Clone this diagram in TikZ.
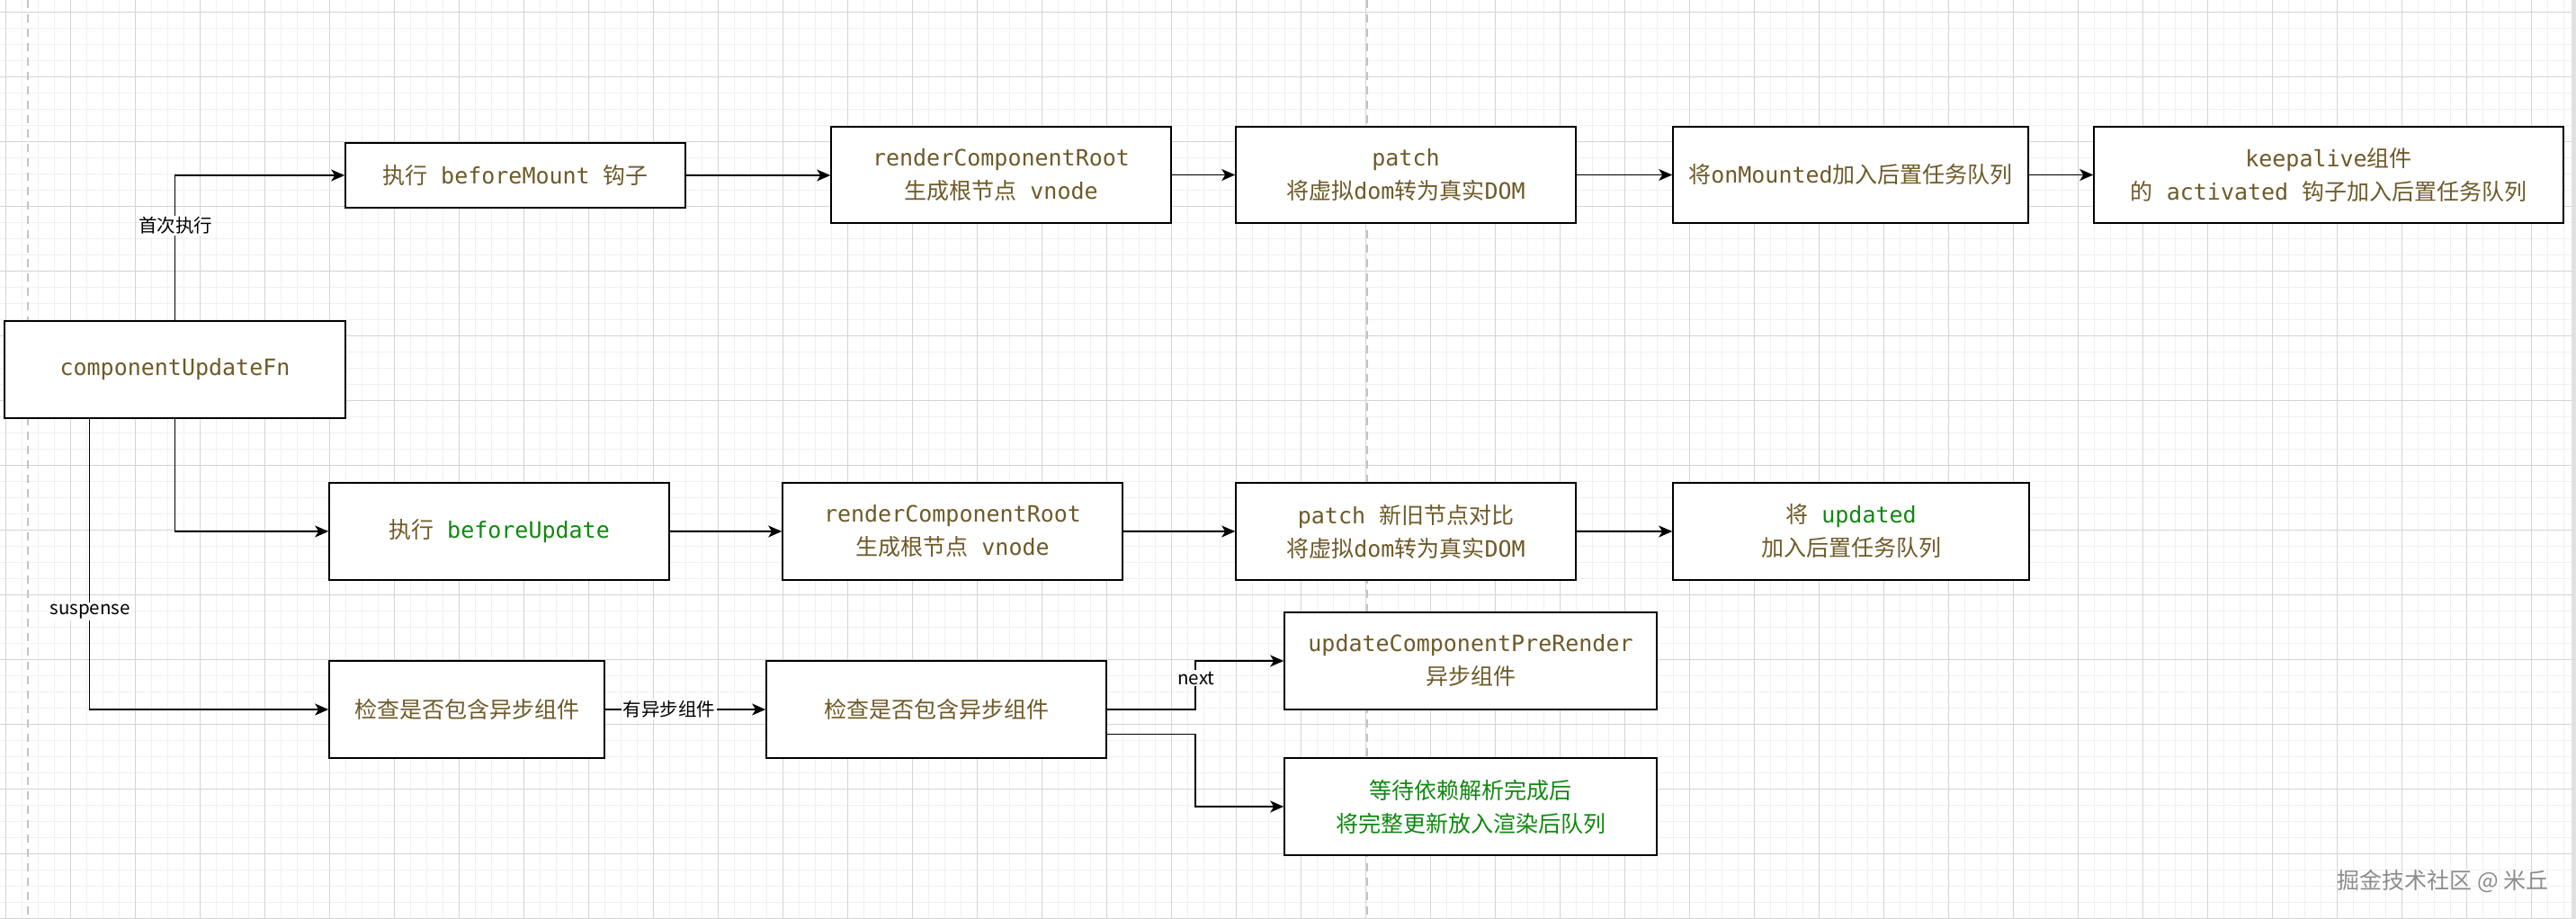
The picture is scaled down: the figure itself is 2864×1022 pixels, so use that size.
\documentclass[tikz,border=0pt]{standalone}
\usepackage{fontspec}
\usetikzlibrary{arrows.meta,calc}
\newfontfamily\monof{DejaVu Sans Mono}
\newfontfamily\cjk{Noto Sans CJK SC}
\newcommand\zh[1]{{\cjk #1}}
\definecolor{txtbrown}{RGB}{110,90,40}
\definecolor{txtgreen}{RGB}{16,136,16}
\definecolor{gridmajor}{RGB}{212,212,212}
\definecolor{gridminor}{RGB}{240,240,240}
\definecolor{guide}{RGB}{196,196,196}
\definecolor{wmgray}{RGB}{140,140,140}
\newcommand\gr[1]{\textcolor{txtgreen}{#1}}
\begin{document}
\begin{tikzpicture}[x=1pt,y=-1pt,
  box/.style={draw=black, fill=white, line width=1.6pt, align=center, inner sep=0pt,
    text=txtbrown, font=\monof\fontsize{25}{37}\selectfont},
  arr/.style={line width=1.4pt, -{Stealth[length=15pt,width=13pt,inset=4pt]}},
  lbl/.style={fill=white, inner sep=1.5pt, font=\cjk\fontsize{20.5}{24}\selectfont, text=black},
  minorline/.style={gridminor, line width=1pt},
  majorline/.style={gridmajor, line width=1.3pt},
  guideline/.style={guide, line width=1.5pt, dash pattern=on 9pt off 7pt},
]
% background and bounding box
\fill[white] (0,0) rectangle (2864,1022);
\useasboundingbox (0,0) rectangle (2864,1022);
% grid
\foreach \i in {0,...,159} \draw[minorline] ({6.3+18*\i},0) -- ({6.3+18*\i},1022);
\foreach \j in {0,...,56} \draw[minorline] (0,{13.3+18*\j}) -- (2864,{13.3+18*\j});
\foreach \i in {0,...,39} \draw[majorline] ({6.3+72*\i},0) -- ({6.3+72*\i},1022);
\foreach \j in {0,...,14} \draw[majorline] (0,{13.3+72*\j}) -- (2864,{13.3+72*\j});
\fill[gridmajor!70] (2859,0) rectangle (2864,1022);
% dashed guides
\draw[guideline] (31,0) -- (31,1022);
\draw[guideline] (1520,0) -- (1520,1022);

% boxes
\node[box, minimum width=379, minimum height=108] (cuf) at (194.5,411) {componentUpdateFn};
\node[box, minimum width=378, minimum height=72] (bm) at (573,195) {\zh{执行} beforeMount \zh{钩子}};
\node[box, minimum width=378, minimum height=107] (rcr1) at (1113,194.5) {renderComponentRoot\\\zh{生成根节点} vnode};
\node[box, minimum width=378, minimum height=107] (p1) at (1563,194.5) {patch\\\zh{将虚拟}dom\zh{转为真实}DOM};
\node[box, minimum width=395, minimum height=107] (onm) at (2057.5,194.5) {\zh{将}onMounted\zh{加入后置任务队列}};
\node[box, minimum width=522, minimum height=107] (keep) at (2589,194.5) {keepalive\zh{组件}\\\zh{的} activated \zh{钩子加入后置任务队列}};

\node[box, minimum width=378, minimum height=108] (bu) at (555,591) {\zh{执行} \gr{beforeUpdate}};
\node[box, minimum width=378, minimum height=108] (rcr2) at (1059,591) {renderComponentRoot\\\zh{生成根节点} vnode};
\node[box, minimum width=378, minimum height=108] (p2) at (1563,591) {patch \zh{新旧节点对比}\\\zh{将虚拟}dom\zh{转为真实}DOM};
\node[box, minimum width=396, minimum height=108] (upd) at (2058,591) {\zh{将} \gr{updated}\\\zh{加入后置任务队列}};

\node[box, minimum width=306, minimum height=108] (c1) at (519,789) {\zh{检查是否包含异步组件}};
\node[box, minimum width=378, minimum height=108] (c2) at (1041,789) {\zh{检查是否包含异步组件}};
\node[box, minimum width=414, minimum height=108] (ucp) at (1635,735) {updateComponentPreRender\\\zh{异步组件}};
\node[box, minimum width=414, minimum height=108, text=txtgreen] (wait) at (1635,897) {\zh{等待依赖解析完成后}\\\zh{将完整更新放入渲染后队列}};

% connectors
\draw[arr] (cuf.north) |- (bm.west);
\draw[arr] (cuf.south) |- (bu.west);
\coordinate (cufq) at ($(cuf.south west)!0.25!(cuf.south east)$);
\draw[arr] (cufq) |- (c1.west);

\draw[arr] (bm.east) -- (bm.east -| rcr1.west);
\draw[arr] (rcr1.east) -- (p1.west);
\draw[arr] (p1.east) -- (onm.west);
\draw[arr] (onm.east) -- (keep.west);

\draw[arr] (bu.east) -- (rcr2.west);
\draw[arr] (rcr2.east) -- (p2.west);
\draw[arr] (p2.east) -- (upd.west);

\draw[arr] (c1.east) -- (c2.west);
\coordinate (elb) at (1329,0);
\draw[arr] (c2.east) -- (c2.east -| elb) |- (ucp.west);
\coordinate (c2low) at ($(c2.north east)!0.75!(c2.south east)$);
\draw[arr] (c2low) -- (c2low -| elb) |- (wait.west);

% edge labels
\node[lbl] (l1) at (195,251) {首次执行};
\node[lbl] (l2) at (100,680) {suspense};
\node[lbl] (l3) at (744,789) {有异步组件};
\node[lbl] (l4) at (1330,754) {next};

% watermark
\node[anchor=east, text=white, font=\cjk\fontsize{25}{30}\selectfont] (wmshadow) at (2838,979) {掘金技术社区 @ 米丘};
\node[anchor=east, text=wmgray, font=\cjk\fontsize{25}{30}\selectfont] (wm) at (2837,980) {掘金技术社区 @ 米丘};
\end{tikzpicture}
\end{document}
